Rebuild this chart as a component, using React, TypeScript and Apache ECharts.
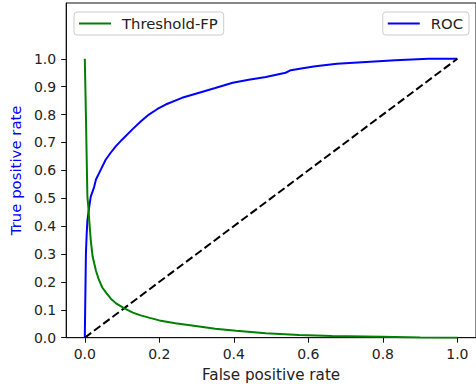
import React, { useEffect, useRef } from "react";
import * as echarts from "echarts";

// ROC curve: [false positive rate, true positive rate]
const rocPoints: [number, number][] = [
  [0, 0], [0.001, 0.1], [0.002, 0.2], [0.003, 0.3], [0.005, 0.37], [0.007, 0.42],
  [0.012, 0.47], [0.016, 0.506], [0.025, 0.54], [0.03, 0.567], [0.042, 0.6],
  [0.056, 0.638], [0.07, 0.664], [0.083, 0.686], [0.1, 0.71], [0.127, 0.746],
  [0.15, 0.775], [0.172, 0.8], [0.195, 0.82], [0.217, 0.836], [0.261, 0.86],
  [0.307, 0.878], [0.35, 0.895], [0.397, 0.914], [0.44, 0.925], [0.486, 0.935],
  [0.539, 0.95], [0.553, 0.959], [0.585, 0.966], [0.619, 0.973], [0.677, 0.982],
  [0.744, 0.988], [0.833, 0.995], [0.922, 1.0], [1, 1],
];

// Threshold vs false positive rate
const thresholdPoints: [number, number][] = [
  [0, 1.0], [0.003, 0.8], [0.005, 0.65], [0.007, 0.506], [0.01, 0.46], [0.012, 0.42],
  [0.016, 0.35], [0.021, 0.291], [0.03, 0.24], [0.038, 0.207], [0.047, 0.18],
  [0.058, 0.16], [0.07, 0.14], [0.083, 0.124], [0.105, 0.106], [0.129, 0.09],
  [0.15, 0.08], [0.172, 0.072], [0.2, 0.062], [0.243, 0.052], [0.307, 0.04],
  [0.35, 0.032], [0.406, 0.025], [0.486, 0.016], [0.575, 0.01], [0.664, 0.006],
  [0.798, 0.003], [0.9, 0.001], [1, 0],
];

const diagonal: [number, number][] = [[0, 0], [1, 1]];

const xTicks = [0, 0.2, 0.4, 0.6, 0.8, 1.0];
const yTicks = [0, 0.1, 0.2, 0.3, 0.4, 0.5, 0.6, 0.7, 0.8, 0.9, 1.0];

const FONT = "DejaVu Sans";
const TXT = "#222";
const FS_TICK = 14;
const FS_TEXT = 14.8;

export default function App() {
  const ref = useRef<HTMLDivElement>(null);
  useEffect(() => {
    document.body.style.margin = "0";
    const chart = echarts.init(ref.current!, null, { renderer: "svg" });
    const legendBase = {
      orient: "horizontal" as const,
      top: 12,
      padding: [4, 6, 4, 5],
      borderColor: "#ccc",
      borderWidth: 1,
      borderRadius: 3,
      backgroundColor: "rgba(255,255,255,0.8)",
      icon: "rect",
      itemWidth: 32,
      itemHeight: 2,
      textStyle: { fontFamily: FONT, fontSize: FS_TEXT, color: TXT, padding: [0, 0, 0, 6] },
    };
    chart.setOption({
      animation: false,
      backgroundColor: "#fff",
      grid: { left: 66, top: 3, width: 411.7, height: 334.7, show: true, borderColor: "#111", borderWidth: 1 },
      legend: [
        { ...legendBase, left: 74, data: ["Threshold-FP"] },
        { ...legendBase, right: 7, data: ["ROC"] },
      ],
      xAxis: {
        type: "value",
        min: -0.05,
        max: 1.05,
        splitLine: { show: false },
        axisLine: { onZero: false, lineStyle: { color: "#111", width: 1 } },
        axisTick: { customValues: xTicks, length: 5, lineStyle: { color: "#111" } },
        axisLabel: {
          customValues: xTicks,
          margin: 9,
          fontFamily: FONT,
          fontSize: FS_TICK,
          color: TXT,
          formatter: (v: number) => v.toFixed(1),
        },
        name: "False positive rate",
        nameLocation: "middle",
        nameGap: 30,
        nameTextStyle: { fontFamily: FONT, fontSize: 15.2, color: TXT },
      },
      yAxis: {
        type: "value",
        min: 0,
        max: 1.2,
        splitLine: { show: false },
        axisLine: { onZero: false, lineStyle: { color: "#111", width: 1 } },
        axisTick: { customValues: yTicks, length: 5, lineStyle: { color: "#111" } },
        axisLabel: {
          customValues: yTicks,
          margin: 10,
          fontFamily: FONT,
          fontSize: FS_TICK,
          color: TXT,
          formatter: (v: number) => v.toFixed(1),
        },
        name: "True positive rate",
        nameLocation: "middle",
        nameGap: 43,
        nameTextStyle: { fontFamily: FONT, fontSize: 14.9, color: "#0000ff" },
      },
      series: [
        {
          name: "ROC",
          type: "line",
          data: rocPoints,
          showSymbol: false,
          lineStyle: { color: "#0000ff", width: 2 },
          itemStyle: { color: "#0000ff" },
        },
        {
          name: "diag",
          type: "line",
          data: diagonal,
          showSymbol: false,
          lineStyle: { color: "#000", width: 2, type: [8, 3.5] },
          itemStyle: { color: "#000" },
        },
        {
          name: "Threshold-FP",
          type: "line",
          data: thresholdPoints,
          showSymbol: false,
          lineStyle: { color: "#008000", width: 2 },
          itemStyle: { color: "#008000" },
        },
      ],
    });
    return () => chart.dispose();
  }, []);
  return <div ref={ref} style={{ width: 476, height: 389 }} />;
}
